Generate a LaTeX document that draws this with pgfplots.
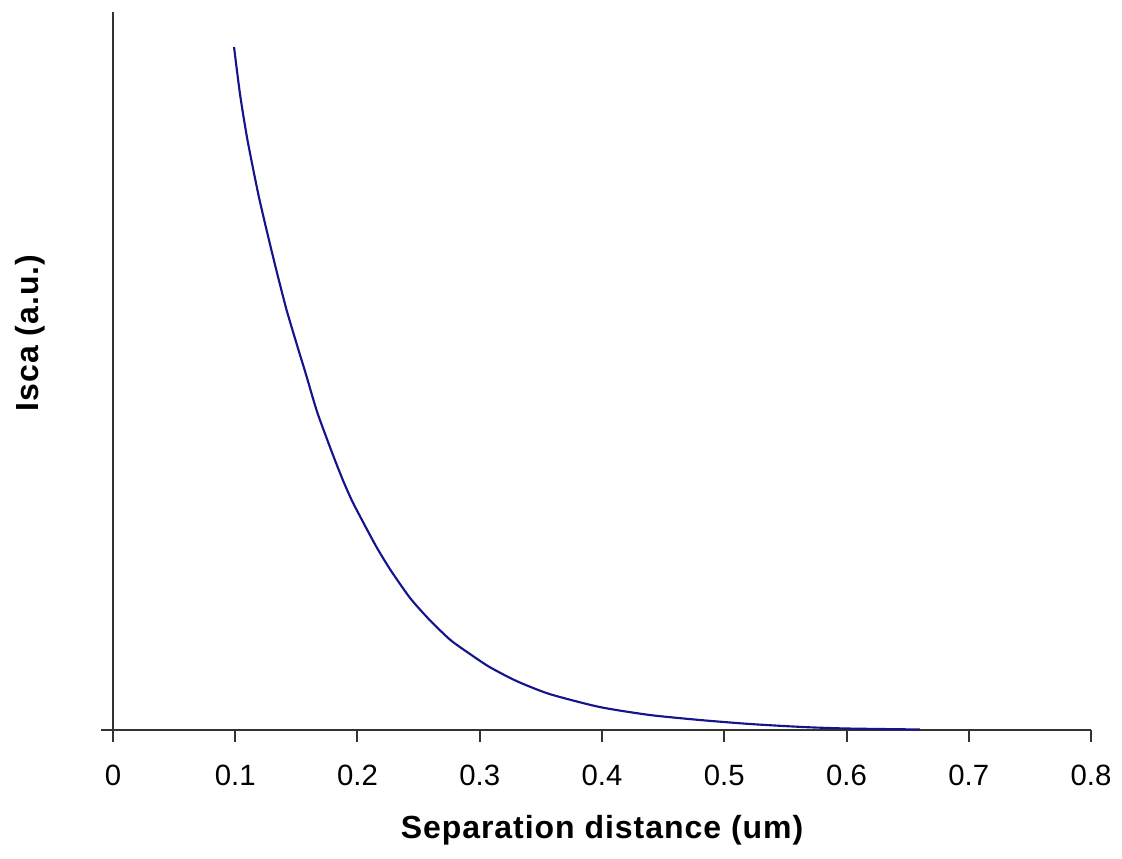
\documentclass[border=0pt]{standalone}
\usepackage{pgfplots}
\pgfplotsset{compat=1.18}
\usepackage{fontspec}
\setmainfont{Liberation Sans}
\definecolor{curve}{RGB}{20,20,140}
\begin{document}
\begin{tikzpicture}
\begin{axis}[
  scale only axis,
  width=733.5pt, height=538.5pt,
  xmin=0, xmax=0.8, ymin=0, ymax=718,
  axis x line=bottom, axis y line=left,
  axis line style={line width=1.5pt, black!80, -},
  xtick={0,0.1,...,0.8},
  ytick={0}, yticklabels={},
  tick align=outside,
  major tick length=9pt,
  tick style={line width=1.5pt, black!80},
  xticklabels={0,0.1,0.2,0.3,0.4,0.5,0.6,0.7,0.8},
  /pgf/number format/assume math mode=true,
  xticklabel style={font=\fontsize{22}{26}\selectfont, anchor=base, yshift=-33pt},
  xlabel={Separation distance (um)},
  ylabel={Isca (a.u.)},
  xlabel style={font=\fontsize{24}{28}\selectfont\bfseries\addfontfeature{LetterSpace=3}, at={(axis description cs:0.5,-0.139)}, anchor=center},
  ylabel style={font=\fontsize{24}{28}\selectfont\bfseries\addfontfeature{LetterSpace=3}, at={(axis description cs:-0.085,0.553)}, anchor=center, rotate=0},
  clip=false,
]
\addplot[curve, line width=1.6pt, smooth, tension=0.4] coordinates {
(0.099,683) (0.104,635) (0.110,590) (0.119,535) (0.127,493) (0.134,458)
(0.142,420) (0.151,383) (0.158,355) (0.167,318) (0.179,278) (0.188,250)
(0.196,228) (0.208,200) (0.216,182) (0.227,160) (0.243,132) (0.259,110)
(0.276,90) (0.292,76) (0.308,63) (0.330,49) (0.357,36) (0.398,23)
(0.439,15) (0.480,10) (0.521,6) (0.564,3) (0.600,1.5) (0.660,0.5)
};
\end{axis}
\pgfresetboundingbox
\path (current axis.origin) ++(-84.75pt,-96.75pt) rectangle ++(841.5pt,644.25pt);
\end{tikzpicture}
\end{document}
